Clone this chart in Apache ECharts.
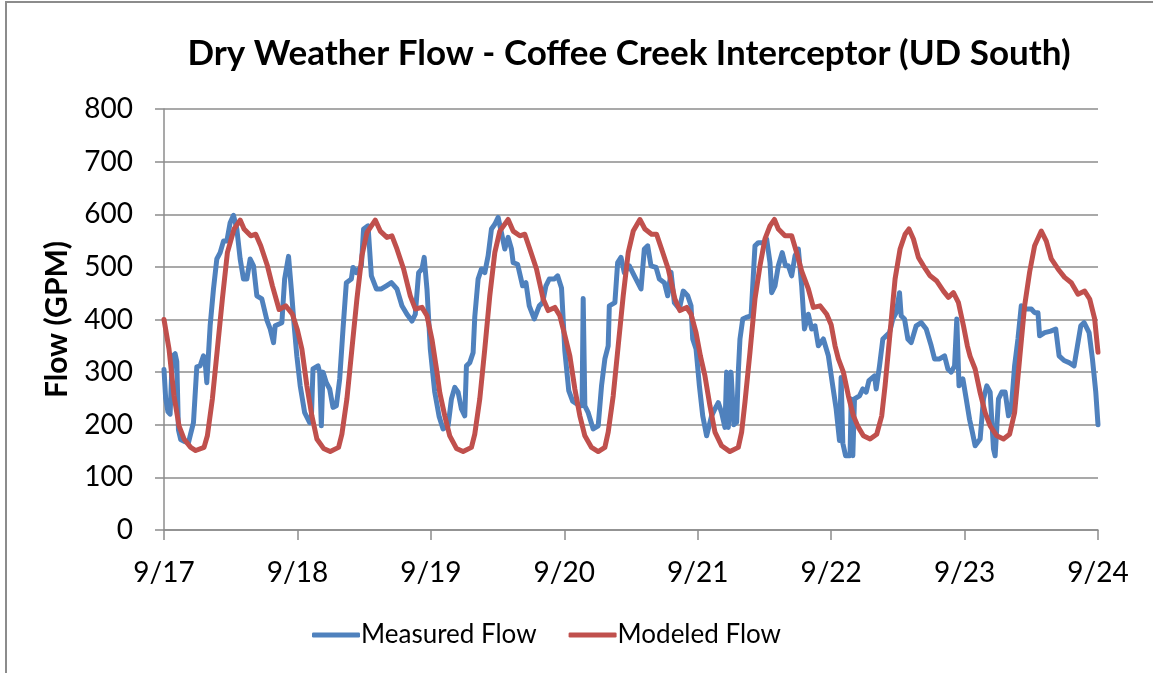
<!DOCTYPE html>
<html>
<head>
<meta charset="utf-8">
<title>Dry Weather Flow - Coffee Creek Interceptor (UD South)</title>
<script src="https://cdn.jsdelivr.net/npm/echarts@6/dist/echarts.min.js"></script>
<style>
  html, body { margin: 0; padding: 0; background: #fff; }
  #chart { width: 1153px; height: 673px; }
</style>
</head>
<body>
<div id="chart"></div>
<script>
// Day labels for the x axis (one tick every 24 hours, starting 9/17)
const dayLabels = ['9/17', '9/18', '9/19', '9/20', '9/21', '9/22', '9/23', '9/24'];

// Measured flow: hours since 9/17 00:00 and flow in GPM
const measuredHours = [
  0, 0.3, 0.7, 1.1, 1.5, 2.0, 2.3, 2.6, 3.0, 3.7, 4.4, 4.7, 5.3, 5.6, 5.9, 6.5, 7.1, 7.4, 7.7, 8.3,
  8.9, 9.5, 10.1, 10.7, 11.3, 11.9, 12.5, 13.1, 13.7, 14.3, 14.9, 15.5, 16.1, 16.7, 17.6, 18.5, 19.1, 19.7, 20.0, 21.2,
  21.7, 22.4, 22.9, 23.4, 23.9, 24.5, 25.3, 26.2, 26.5, 26.8, 27.7, 28.0, 28.3, 28.6, 29.2, 29.8, 30.4, 31.0, 31.6, 32.2,
  32.8, 33.7, 34.0, 34.6, 35.5, 35.9, 36.7, 37.3, 38.2, 39.1, 40.0, 40.9, 41.9, 42.8, 43.7, 44.6, 45.2, 45.8, 46.4, 46.8,
  47.3, 47.9, 48.7, 49.5, 50.2, 51.1, 51.7, 52.3, 52.9, 53.5, 54.1, 54.4, 55.0, 55.6, 55.9, 56.5, 57.1, 57.7, 58.3, 58.9,
  59.5, 60.1, 60.7, 61.3, 61.9, 62.5, 62.8, 63.6, 64.5, 65.1, 65.7, 66.6, 67.5, 68.1, 68.7, 69.3, 70.2, 70.8, 71.5, 72.1,
  72.8, 73.5, 74.8, 75.2, 75.4, 75.7, 76.3, 77.2, 78.1, 78.7, 79.3, 79.9, 80.1, 81.1, 81.6, 82.2, 82.8, 83.7, 84.6, 85.8,
  86.4, 87.0, 87.6, 88.5, 89.1, 90.0, 90.6, 91.2, 91.8, 92.7, 93.4, 94.2, 94.8, 95.1, 95.7, 96.3, 96.9, 97.6, 98.5, 99.1,
  99.7, 100.3, 100.9, 101.2, 101.5, 102.0, 102.5, 103.0, 103.3, 103.6, 104.1, 104.7, 105.6, 106.3, 106.9, 107.8, 108.4, 109.0, 109.3, 109.9,
  110.5, 111.2, 111.8, 112.3, 112.9, 113.5, 114.1, 114.7, 115.2, 115.9, 116.5, 117.1, 117.7, 118.6, 119.5, 120.2, 120.9, 121.5, 121.8, 122.1,
  122.6, 123.4, 123.6, 123.9, 124.2, 125.1, 125.7, 126.3, 126.8, 127.8, 128.1, 128.7, 129.3, 129.9, 130.5, 131.1, 131.7, 132.3, 132.6, 133.2,
  133.8, 134.4, 135.3, 136.2, 137.1, 138.0, 138.6, 139.5, 140.4, 141.0, 141.6, 142.2, 142.6, 143.0, 143.7, 144.3, 144.9, 145.4, 145.9, 146.8,
  147.4, 148.0, 148.6, 149.2, 149.5, 150.1, 150.7, 151.3, 151.9, 152.4, 153.0, 153.6, 154.2, 155.1, 156.0, 156.6, 157.2, 157.5, 158.4, 159.5,
  160.4, 161.0, 161.9, 162.8, 163.7, 164.3, 164.9, 165.5, 166.4, 167.0, 167.6, 168.0
];
const measuredFlow = [
  305, 250, 225, 220, 330, 335, 320, 190, 172, 168, 166, 179, 204, 205, 310, 312, 331, 320, 280, 388,
  458, 515, 527, 549, 549, 584, 598, 572, 515, 477, 477, 515, 502, 445, 439, 399, 382, 356, 388, 394,
  477, 520, 458, 390, 330, 274, 223, 204, 210, 306, 312, 300, 198, 300, 280, 268, 233, 236, 287, 382,
  470, 477, 499, 489, 502, 572, 578, 483, 458, 458, 464, 470, 458, 426, 410, 397, 410, 489, 496, 518,
  458, 344, 262, 215, 192, 198, 249, 271, 262, 230, 217, 312, 318, 337, 405, 477, 496, 489, 521, 572,
  581, 594, 565, 534, 556, 534, 508, 505, 464, 470, 426, 401, 426, 432, 464, 477, 477, 483, 460, 340,
  265, 245, 236, 236, 440, 236, 223, 192, 198, 274, 325, 350, 426, 432, 508, 518, 489, 502, 483, 458,
  534, 540, 502, 499, 477, 470, 445, 490, 432, 420, 454, 445, 426, 363, 344, 274, 217, 179, 217, 230,
  242, 223, 195, 300, 195, 300, 200, 205, 300, 363, 401, 404, 407, 540, 546, 546, 553, 508, 451, 464,
  502, 527, 502, 502, 483, 521, 534, 464, 382, 410, 382, 388, 350, 363, 331, 280, 230, 170, 290, 165,
  141, 141, 249, 141, 249, 255, 268, 262, 284, 293, 268, 312, 363, 369, 375, 401, 413, 451, 407, 401,
  363, 356, 388, 394, 382, 350, 325, 325, 331, 306, 300, 312, 401, 274, 287, 249, 210, 186, 160, 173,
  249, 274, 262, 154, 141, 249, 262, 262, 217, 230, 312, 363, 426, 420, 420, 413, 413, 369, 375, 378,
  382, 331, 322, 318, 312, 350, 388, 394, 375, 325, 262, 200
];

// Modeled flow: hours since 9/17 00:00 and flow in GPM
const modeledHours = [
  0, 0.9, 1.8, 2.7, 3.6, 4.8, 5.7, 7.2, 7.8, 8.7, 9.6, 10.5, 11.4, 12.6, 13.7, 14.4, 15.6, 16.5, 17.4, 18.6,
  19.5, 20.7, 21.9, 23.1, 24.0, 24.8, 25.7, 26.6, 27.5, 28.7, 29.9, 31.4, 32.0, 32.9, 33.8, 34.7, 35.6, 36.5, 38.0, 38.9,
  40.1, 41.0, 41.9, 43.1, 44.3, 45.2, 46.4, 47.3, 48.2, 49.1, 49.6, 50.5, 51.4, 52.6, 53.8, 55.3, 55.9, 56.8, 57.7, 58.6,
  59.5, 60.4, 61.9, 62.8, 64.0, 64.9, 65.8, 67.0, 68.2, 69.1, 70.3, 71.2, 72.1, 73.0, 73.9, 74.8, 75.7, 76.9, 78.1, 79.3,
  79.9, 80.8, 81.7, 82.6, 83.5, 84.4, 85.6, 86.5, 87.7, 88.6, 89.5, 90.7, 91.9, 92.8, 94.0, 94.8, 95.7, 96.5, 97.3, 98.2,
  99.1, 100.3, 101.8, 103.3, 103.9, 104.5, 105.4, 106.3, 107.2, 108.1, 109.0, 109.8, 110.5, 111.7, 112.9, 113.8, 114.7, 115.9, 116.8, 118.0,
  119.2, 120.0, 120.7, 121.3, 122.2, 123.1, 124.0, 124.9, 125.8, 127.0, 128.2, 129.1, 129.7, 130.6, 131.5, 132.4, 133.3, 134.0, 134.8, 135.7,
  136.6, 137.8, 139.0, 140.2, 141.1, 142.0, 142.9, 143.8, 144.5, 145.0, 145.9, 146.8, 147.7, 148.6, 149.8, 151.0, 152.1, 153.0, 153.9, 154.8,
  155.7, 156.6, 157.8, 158.7, 159.6, 160.8, 162.0, 163.2, 164.4, 165.6, 166.5, 167.4, 168.0
];
const modeledFlow = [
  400, 344, 255, 198, 173, 157, 151, 157, 179, 249, 344, 439, 527, 572, 589, 572, 559, 562, 540, 502,
  464, 419, 426, 410, 380, 344, 274, 217, 173, 155, 149, 157, 182, 249, 344, 439, 521, 565, 589, 568,
  556, 559, 534, 496, 445, 420, 423, 407, 362, 300, 261, 217, 179, 155, 149, 157, 182, 249, 344, 445,
  527, 568, 590, 568, 559, 562, 534, 496, 439, 417, 423, 407, 370, 331, 268, 217, 179, 157, 149, 157,
  186, 255, 350, 445, 527, 568, 590, 572, 562, 562, 534, 496, 439, 417, 423, 410, 375, 330, 293, 236,
  186, 160, 149, 157, 186, 243, 338, 439, 502, 553, 578, 590, 572, 559, 559, 527, 492, 458, 423, 426,
  410, 390, 350, 325, 300, 255, 217, 195, 179, 173, 182, 217, 274, 375, 477, 534, 562, 572, 553, 518,
  502, 483, 473, 454, 442, 451, 432, 388, 350, 330, 306, 261, 223, 198, 179, 173, 182, 223, 325, 426,
  490, 540, 568, 549, 515, 496, 480, 470, 448, 454, 439, 401, 338
];

const pairs = (xs, ys) => xs.map((x, i) => [x, ys[i]]);

const FONT = 'Lato, "Liberation Sans", sans-serif';
const GRID_GRAY = '#8c8c8c';

const chart = echarts.init(document.getElementById('chart'), null, { renderer: 'canvas' });

chart.setOption({
  animation: false,
  backgroundColor: '#ffffff',
  textStyle: { fontFamily: FONT, color: '#000' },
  title: {
    text: 'Dry Weather Flow - Coffee Creek Interceptor (UD South)',
    left: 624,
    top: 31,
    textAlign: 'center',
    textStyle: { fontFamily: FONT, fontSize: 35, fontWeight: 'bold', color: '#000' }
  },
  graphic: [{
    type: 'rect',
    shape: { x: 6, y: 2, width: 1200, height: 720 },
    style: { fill: 'none', stroke: '#8c8c8c', lineWidth: 2 },
    silent: true,
    z: -1
  }],
  legend: {
    top: 617,
    left: 307,
    itemWidth: 48,
    itemHeight: 5,
    itemGap: 32,
    icon: 'roundRect',
    textStyle: { fontFamily: FONT, fontSize: 26, color: '#000', padding: [0, 0, 0, -4] },
    data: ['Measured Flow', 'Modeled Flow']
  },
  grid: { left: 164, right: 55, top: 109, bottom: 143, containLabel: false },
  xAxis: {
    type: 'value',
    min: 0,
    max: 168,
    interval: 24,
    axisLine: { show: true, onZero: false, lineStyle: { color: GRID_GRAY, width: 1.5 } },
    axisTick: { show: true, length: 10, lineStyle: { color: GRID_GRAY, width: 1.5 } },
    splitLine: { show: false },
    axisLabel: {
      fontFamily: FONT, fontSize: 28, color: '#000', margin: 29,
      formatter: v => dayLabels[Math.round(v / 24)]
    }
  },
  yAxis: {
    type: 'value',
    min: 0,
    max: 800,
    interval: 100,
    name: 'Flow (GPM)',
    nameLocation: 'middle',
    nameGap: 92,
    nameTextStyle: { fontFamily: FONT, fontSize: 30, fontWeight: 'bold', color: '#000' },
    axisLine: { show: true, lineStyle: { color: GRID_GRAY, width: 1.5 } },
    axisTick: { show: true, length: 9, lineStyle: { color: GRID_GRAY, width: 1.5 } },
    splitLine: { show: true, lineStyle: { color: GRID_GRAY, width: 1.5 } },
    axisLabel: { fontFamily: FONT, fontSize: 28, color: '#000', margin: 31 }
  },
  series: [
    {
      name: 'Measured Flow',
      type: 'line',
      data: pairs(measuredHours, measuredFlow),
      showSymbol: false,
      symbol: 'none',
      lineStyle: { color: '#4F81BD', width: 5, join: 'round', cap: 'round' },
      itemStyle: { color: '#4F81BD' },
      z: 2
    },
    {
      name: 'Modeled Flow',
      type: 'line',
      data: pairs(modeledHours, modeledFlow),
      showSymbol: false,
      symbol: 'none',
      lineStyle: { color: '#C0504D', width: 5, join: 'round', cap: 'round' },
      itemStyle: { color: '#C0504D' },
      z: 3
    }
  ]
});
</script>
</body>
</html>
